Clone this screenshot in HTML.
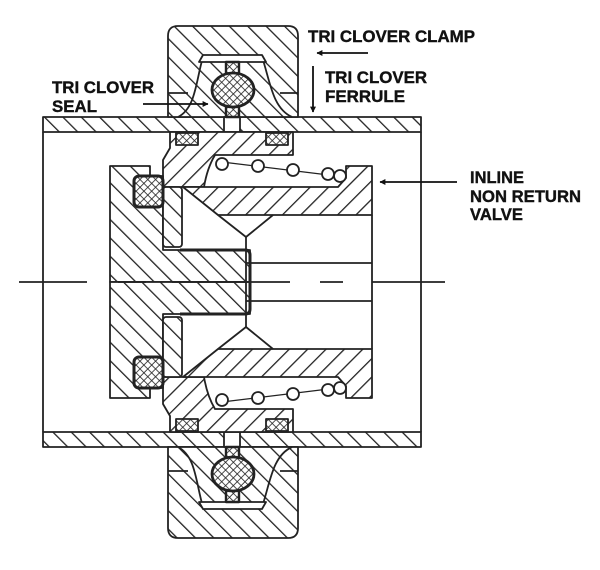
<!DOCTYPE html>
<html><head><meta charset="utf-8"><style>
html,body{margin:0;padding:0;background:#fff}
svg{display:block;--a:url(#hA);--b:url(#hB)}
use.m{--a:url(#hB);--b:url(#hA)}
text{font-family:"Liberation Sans",Arial,sans-serif;font-weight:700;font-size:17px;fill:#111;stroke:#111;stroke-width:0.4}
</style></head><body>
<svg width="600" height="570" viewBox="0 0 600 570" xmlns="http://www.w3.org/2000/svg">
<defs>
<pattern id="hA" patternUnits="userSpaceOnUse" width="13" height="13" patternTransform="rotate(-45)"><rect width="13" height="13" fill="#fff"/><line x1="0" y1="0" x2="0" y2="13" stroke="#222" stroke-width="2.6"/></pattern>
<pattern id="hB" patternUnits="userSpaceOnUse" width="13" height="13" patternTransform="rotate(45)"><rect width="13" height="13" fill="#fff"/><line x1="0" y1="0" x2="0" y2="13" stroke="#222" stroke-width="2.6"/></pattern>
<pattern id="hX" patternUnits="userSpaceOnUse" width="5.5" height="5.5" patternTransform="rotate(45)"><rect width="5.5" height="5.5" fill="#fff"/><line x1="0" y1="0" x2="0" y2="5.5" stroke="#222" stroke-width="1.6"/><line x1="0" y1="0" x2="5.5" y2="0" stroke="#222" stroke-width="1.6"/></pattern>
<marker id="ar" viewBox="0 0 10 10" refX="9" refY="5" markerWidth="6" markerHeight="6" orient="auto" markerUnits="userSpaceOnUse"><path d="M0,0 L10,5 L0,10z" fill="#111"/></marker>
<g id="t" stroke="#222" stroke-width="1.8" stroke-linejoin="round">
 <rect x="43" y="117" width="378" height="15" style="fill:var(--a)"/>
 <line x1="43" y1="132" x2="43" y2="282"/>
 <line x1="421" y1="132" x2="421" y2="282"/>
 <path d="M168,117 V36 Q168,26 178,26 H288 Q298,26 298,36 V117 Z" style="fill:var(--a)"/>
 <line x1="168" y1="93" x2="188" y2="93"/>
 <line x1="280" y1="93" x2="298" y2="93"/>
 <path d="M203,57 C196,80 196,108 178,117" fill="none"/>
 <path d="M262,57 C270,80 272,108 292,117" fill="none"/>
 <path d="M203,55 H262 L266,62 H199 Z" fill="#fff"/>
 <rect x="224" y="117" width="16" height="15" fill="#fff"/>
 <rect x="226" y="62" width="13" height="55" fill="url(#hX)" stroke-width="2.4"/>
 <ellipse cx="233" cy="90" rx="21" ry="17" fill="url(#hX)" stroke-width="2.8"/>
 <path d="M170,132 H293 V155 H215 C209,165 206,175 204,187 H163 V160 L170,148 Z" style="fill:var(--b)"/>
 <rect x="176" y="133" width="22" height="12" fill="url(#hX)"/>
 <rect x="266" y="133" width="22" height="12" fill="url(#hX)"/>
 <path d="M110,166 H150 V176 H163 V250 H250 V282 H110 Z" style="fill:var(--a)"/>
 <rect x="163" y="187" width="19" height="60" rx="3" style="fill:var(--a)"/>
 <path d="M180,250 H245 Q250,250 250,255 V282" fill="none" stroke-width="3"/>
 <rect x="134" y="176" width="29" height="31" rx="5" fill="url(#hX)" stroke-width="3"/>
 <path d="M183,187 H338 L346,178 V166 H372 V215 H218 Z" style="fill:var(--b)"/>
 <path d="M218,215 L246,237 L273,215" fill="none"/>
 <line x1="246" y1="237" x2="246" y2="282"/>
 <line x1="246" y1="263" x2="372" y2="263"/>
 <line x1="372" y1="215" x2="372" y2="282"/>
 <line x1="222" y1="162" x2="345" y2="177" stroke-width="1.3"/>
 <g fill="#fff"><circle cx="222" cy="164" r="6"/><circle cx="258" cy="166" r="6"/><circle cx="293" cy="170" r="6"/><circle cx="328" cy="174" r="6"/><circle cx="340" cy="176" r="6"/></g>
</g>
</defs>
<use href="#t"/>
<use href="#t" class="m" transform="translate(0,564) scale(1,-1)"/>
<g stroke="#222" stroke-width="1.8">
 <line x1="19" y1="282" x2="87" y2="282"/>
 <line x1="118" y1="282" x2="146" y2="282"/>
 <line x1="172" y1="282" x2="290" y2="282"/>
 <line x1="320" y1="282" x2="343" y2="282"/>
 <line x1="372" y1="282" x2="445" y2="282"/>
</g>
<text x="308" y="42" textLength="167" lengthAdjust="spacingAndGlyphs">TRI CLOVER CLAMP</text>
<line x1="368" y1="53" x2="317" y2="53" stroke="#111" stroke-width="1.8" marker-end="url(#ar)"/>
<text x="325" y="83" textLength="102" lengthAdjust="spacingAndGlyphs">TRI CLOVER</text>
<text x="325" y="102" textLength="80" lengthAdjust="spacingAndGlyphs">FERRULE</text>
<line x1="313" y1="66" x2="313" y2="112" stroke="#111" stroke-width="1.8" marker-end="url(#ar)"/>
<text x="52" y="93" textLength="102" lengthAdjust="spacingAndGlyphs">TRI CLOVER</text>
<text x="52" y="112" textLength="45" lengthAdjust="spacingAndGlyphs">SEAL</text>
<line x1="143" y1="104" x2="208" y2="104" stroke="#111" stroke-width="1.8" marker-end="url(#ar)"/>
<text x="470" y="183" textLength="54" lengthAdjust="spacingAndGlyphs">INLINE</text>
<text x="470" y="202" textLength="111" lengthAdjust="spacingAndGlyphs">NON RETURN</text>
<text x="470" y="220" textLength="53" lengthAdjust="spacingAndGlyphs">VALVE</text>
<line x1="457" y1="182" x2="380" y2="182" stroke="#111" stroke-width="1.8" marker-end="url(#ar)"/>
</svg>
</body></html>
